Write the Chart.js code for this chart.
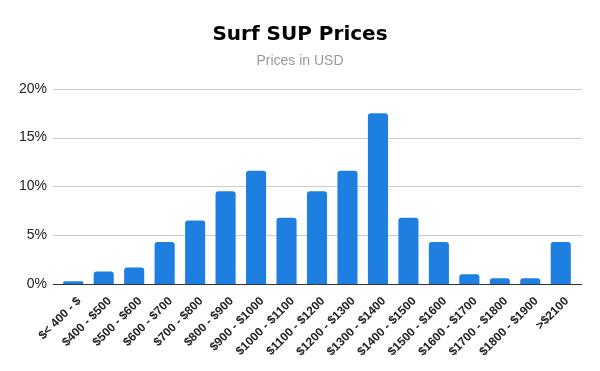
<!DOCTYPE html>
<html lang="en">
<head>
  <meta charset="UTF-8">
  <title>Surf SUP Prices</title>
  <script src="https://cdn.jsdelivr.net/npm/chart.js"></script>
  <style>
    html, body { margin: 0; padding: 0; background: #fff; }
    #wrap { width: 600px; height: 371px; }
  </style>
</head>
<body>
  <div id="wrap"><canvas id="myChart" width="600" height="371"></canvas></div>

  <script>
    const labels = ['$< 400 - $', '$400 - $500', '$500 - $600', '$600 - $700', '$700 - $800',
      '$800 - $900', '$900 - $1000', '$1000 - $1100', '$1100 - $1200', '$1200 - $1300',
      '$1300 - $1400', '$1400 - $1500', '$1500 - $1600', '$1600 - $1700', '$1700 - $1800',
      '$1800 - $1900', '>$2100'];
    const shares = [0.3, 1.3, 1.7, 4.3, 6.5, 9.5, 11.6, 6.8, 9.5, 11.6, 17.5, 6.8, 4.3, 1.0, 0.6, 0.6, 4.3];
    const yTicks = [0, 5, 10, 15, 20];

    // horizontal grid lines a bit wider than the bars, like the original
    const gridPlugin = {
      id: 'wideGrid',
      beforeDatasetsDraw(chart) {
        const c = chart.ctx, y = chart.scales.y, a = chart.chartArea;
        c.save();
        c.lineWidth = 1;
        yTicks.forEach(t => {
          const py = Math.round(y.getPixelForValue(t)) + 0.5;
          c.strokeStyle = t === 0 ? '#333333' : '#cccccc';
          c.beginPath();
          c.moveTo(a.left - 5, py);
          c.lineTo(a.right + 6, py);
          c.stroke();
        });
        c.restore();
      }
    };

    const ctx = document.getElementById('myChart').getContext('2d');
    const myChart = new Chart(ctx, {
      type: 'bar',
      data: {
        labels: labels,
        datasets: [{
          data: shares,
          backgroundColor: '#1f7fe1',
          borderRadius: { topLeft: 3, topRight: 3 },
          borderSkipped: 'bottom',
          categoryPercentage: 0.66,
          barPercentage: 1.0
        }]
      },
      options: {
        responsive: false,
        animation: false,
        layout: { padding: { left: 0, right: 0, top: 0, bottom: 10 } },
        plugins: {
          legend: { display: false },
          tooltip: { enabled: false },
          title: {
            display: true,
            text: 'Surf SUP Prices',
            color: '#000',
            font: { family: 'DejaVu Sans', size: 20, weight: 'bold' },
            padding: { top: 23, bottom: 6 }
          },
          subtitle: {
            display: true,
            text: 'Prices in USD',
            color: '#999999',
            font: { family: 'Liberation Sans', size: 14 },
            padding: { bottom: 19 }
          }
        },
        scales: {
          x: {
            grid: { display: false },
            border: { display: false },
            ticks: {
              autoSkip: false,
              maxRotation: 45,
              minRotation: 45,
              padding: 2,
              labelOffset: 6,
              color: '#222',
              font: { family: 'Liberation Sans', size: 12, weight: 'bold' }
            }
          },
          y: {
            min: 0,
            max: 20,
            grid: { display: false },
            border: { display: false },
            afterBuildTicks(scale) { scale.ticks = yTicks.map(v => ({ value: v })); },
            afterFit(scale) { scale.width = 58; },
            ticks: {
              padding: 3,
              color: '#222',
              font: { family: 'Liberation Sans', size: 14 },
              callback: v => v + '%'
            }
          },
          // empty right-hand axis, only keeps space on the right
          yRight: {
            position: 'right',
            grid: { display: false },
            border: { display: false },
            ticks: { display: false },
            afterFit(scale) { scale.width = 24; }
          }
        }
      },
      plugins: [gridPlugin]
    });
  </script>
</body>
</html>
